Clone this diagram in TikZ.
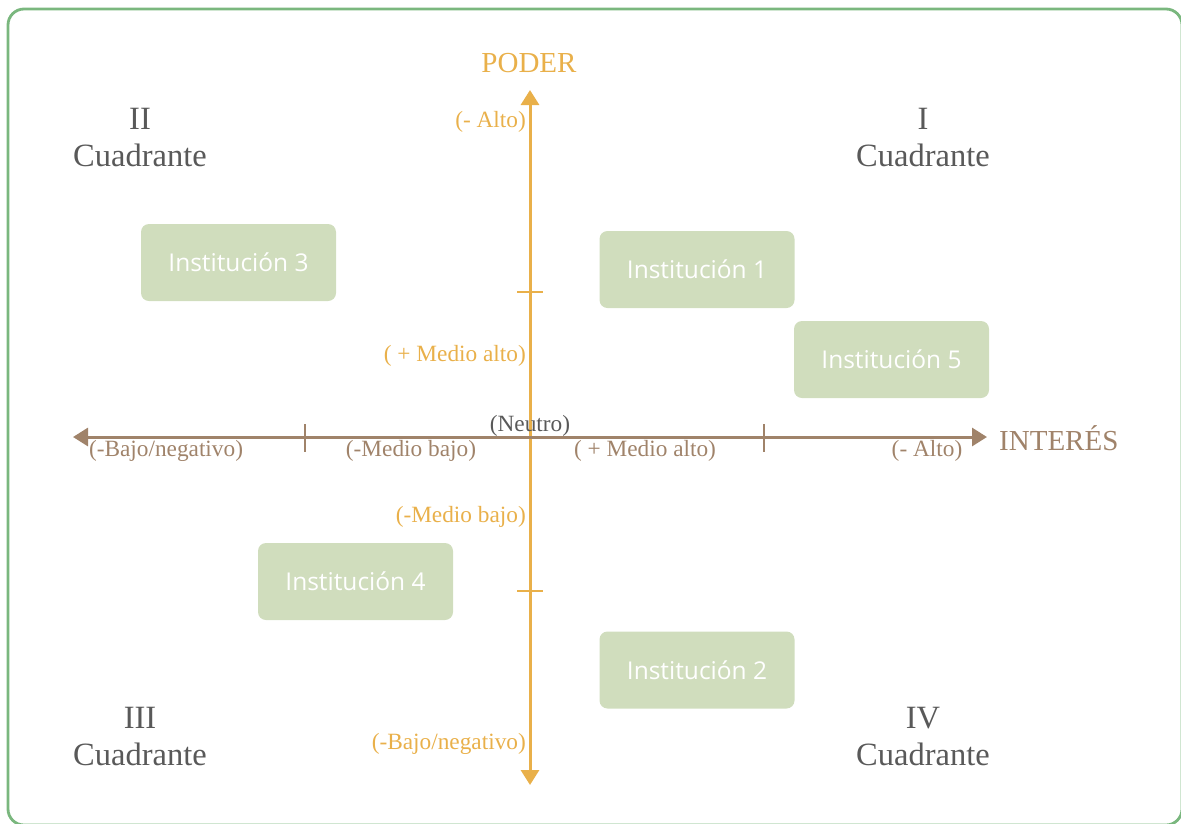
\documentclass[tikz,border=0pt]{standalone}
\usepackage{fontspec}
\setmainfont{Liberation Serif}
\newfontfamily\boxfont{Open Sans}
\usetikzlibrary{arrows.meta}
\definecolor{frameg}{HTML}{7AB77E}
\definecolor{gold}{HTML}{E9B04A}
\definecolor{brownax}{HTML}{A0836A}
\definecolor{greytxt}{HTML}{595959}
\definecolor{boxg}{HTML}{D0DDBD}
\tikzset{
  instbox/.style={fill=boxg, rounded corners=8pt, minimum width=195pt, minimum height=77pt, inner sep=0pt, text=white, font=\boxfont\fontsize{24.5}{28}\selectfont},
  quad/.style={text=greytxt, align=center, font=\fontsize{32.5}{37}\selectfont, inner sep=0pt},
  vlab/.style={text=gold, anchor=east, font=\fontsize{23.3}{26}\selectfont, inner sep=0pt},
  hlab/.style={text=brownax, font=\fontsize{23.3}{26}\selectfont, inner sep=0pt},
  vaxis/.style={draw=gold, line width=3pt, -{Triangle[width=18pt,length=15pt]}},
  haxis/.style={draw=brownax, line width=3pt},
  tickv/.style={draw=gold, line width=2.5pt},
  tickh/.style={draw=brownax, line width=2.5pt}
}
\begin{document}
\begin{tikzpicture}[x=1pt,y=-1pt]
\useasboundingbox (0,0) rectangle (1181,823);
\begin{scope}
\clip (0,0) rectangle (1181,823);
\draw[frameg, line width=2.8pt, rounded corners=16pt] (8,9) rectangle (1182,825);
\end{scope}
% axes
\coordinate (vtop) at (530,90);
\coordinate (vbot) at (530,785);
\coordinate (vmid) at (530,437);
\coordinate (hleft) at (73,437);
\coordinate (hright) at (987,437);
\draw[vaxis] (vmid) -- (vtop);
\draw[vaxis] (vmid) -- (vbot);
\draw[haxis, -{Triangle[width=18pt,length=15pt]}] (vmid) -- (hleft);
\draw[haxis, -{Triangle[width=18pt,length=15pt]}] (vmid) -- (hright);
% ticks
\coordinate (th1a) at (305,424); \coordinate (th1b) at (305,452);
\coordinate (th2a) at (764,424); \coordinate (th2b) at (764,452);
\coordinate (tv1a) at (517,292); \coordinate (tv1b) at (543,292);
\coordinate (tv2a) at (517,591); \coordinate (tv2b) at (543,591);
\draw[tickh] (th1a) -- (th1b);
\draw[tickh] (th2a) -- (th2b);
\draw[tickv] (tv1a) -- (tv1b);
\draw[tickv] (tv2a) -- (tv2b);
% axis titles
\node[text=gold, font=\fontsize{29}{32}\selectfont, inner sep=0pt] (poder) at (529,63) {PODER};
\node[text=brownax, font=\fontsize{29}{32}\selectfont, inner sep=0pt, anchor=west] (interes) at (999,438) {INTERÉS};
% vertical labels
\node[vlab] (va) at (526,122) {(- Alto)};
\node[vlab] (vma) at (526,356) {( + Medio alto)};
\node[vlab] (vmb) at (526,517) {(-Medio bajo)};
\node[vlab] (vb) at (526,744) {(-Bajo/negativo)};
% horizontal labels
\node[hlab] (hb) at (166,451) {(-Bajo/negativo)};
\node[hlab] (hmb) at (411,451) {(-Medio bajo)};
\node[hlab] (hma) at (645,451) {( + Medio alto)};
\node[hlab] (ha) at (927,451) {(- Alto)};
\node[text=greytxt, font=\fontsize{23.3}{26}\selectfont, inner sep=0pt] (neutro) at (530,426) {(Neutro)};
% quadrants
\node[quad] (q2) at (140,138) {II\\Cuadrante};
\node[quad] (q1) at (923,138) {I\\Cuadrante};
\node[quad] (q3) at (140,737) {III\\Cuadrante};
\node[quad] (q4) at (923,737) {IV\\Cuadrante};
% institutions
\node[instbox] (i3) at (238.5,262.5) {Institución 3};
\node[instbox] (i1) at (697,269.5) {Institución 1};
\node[instbox] (i5) at (891.5,359.5) {Institución 5};
\node[instbox] (i4) at (355.5,581.5) {Institución 4};
\node[instbox] (i2) at (697,670) {Institución 2};
\end{tikzpicture}
\end{document}
